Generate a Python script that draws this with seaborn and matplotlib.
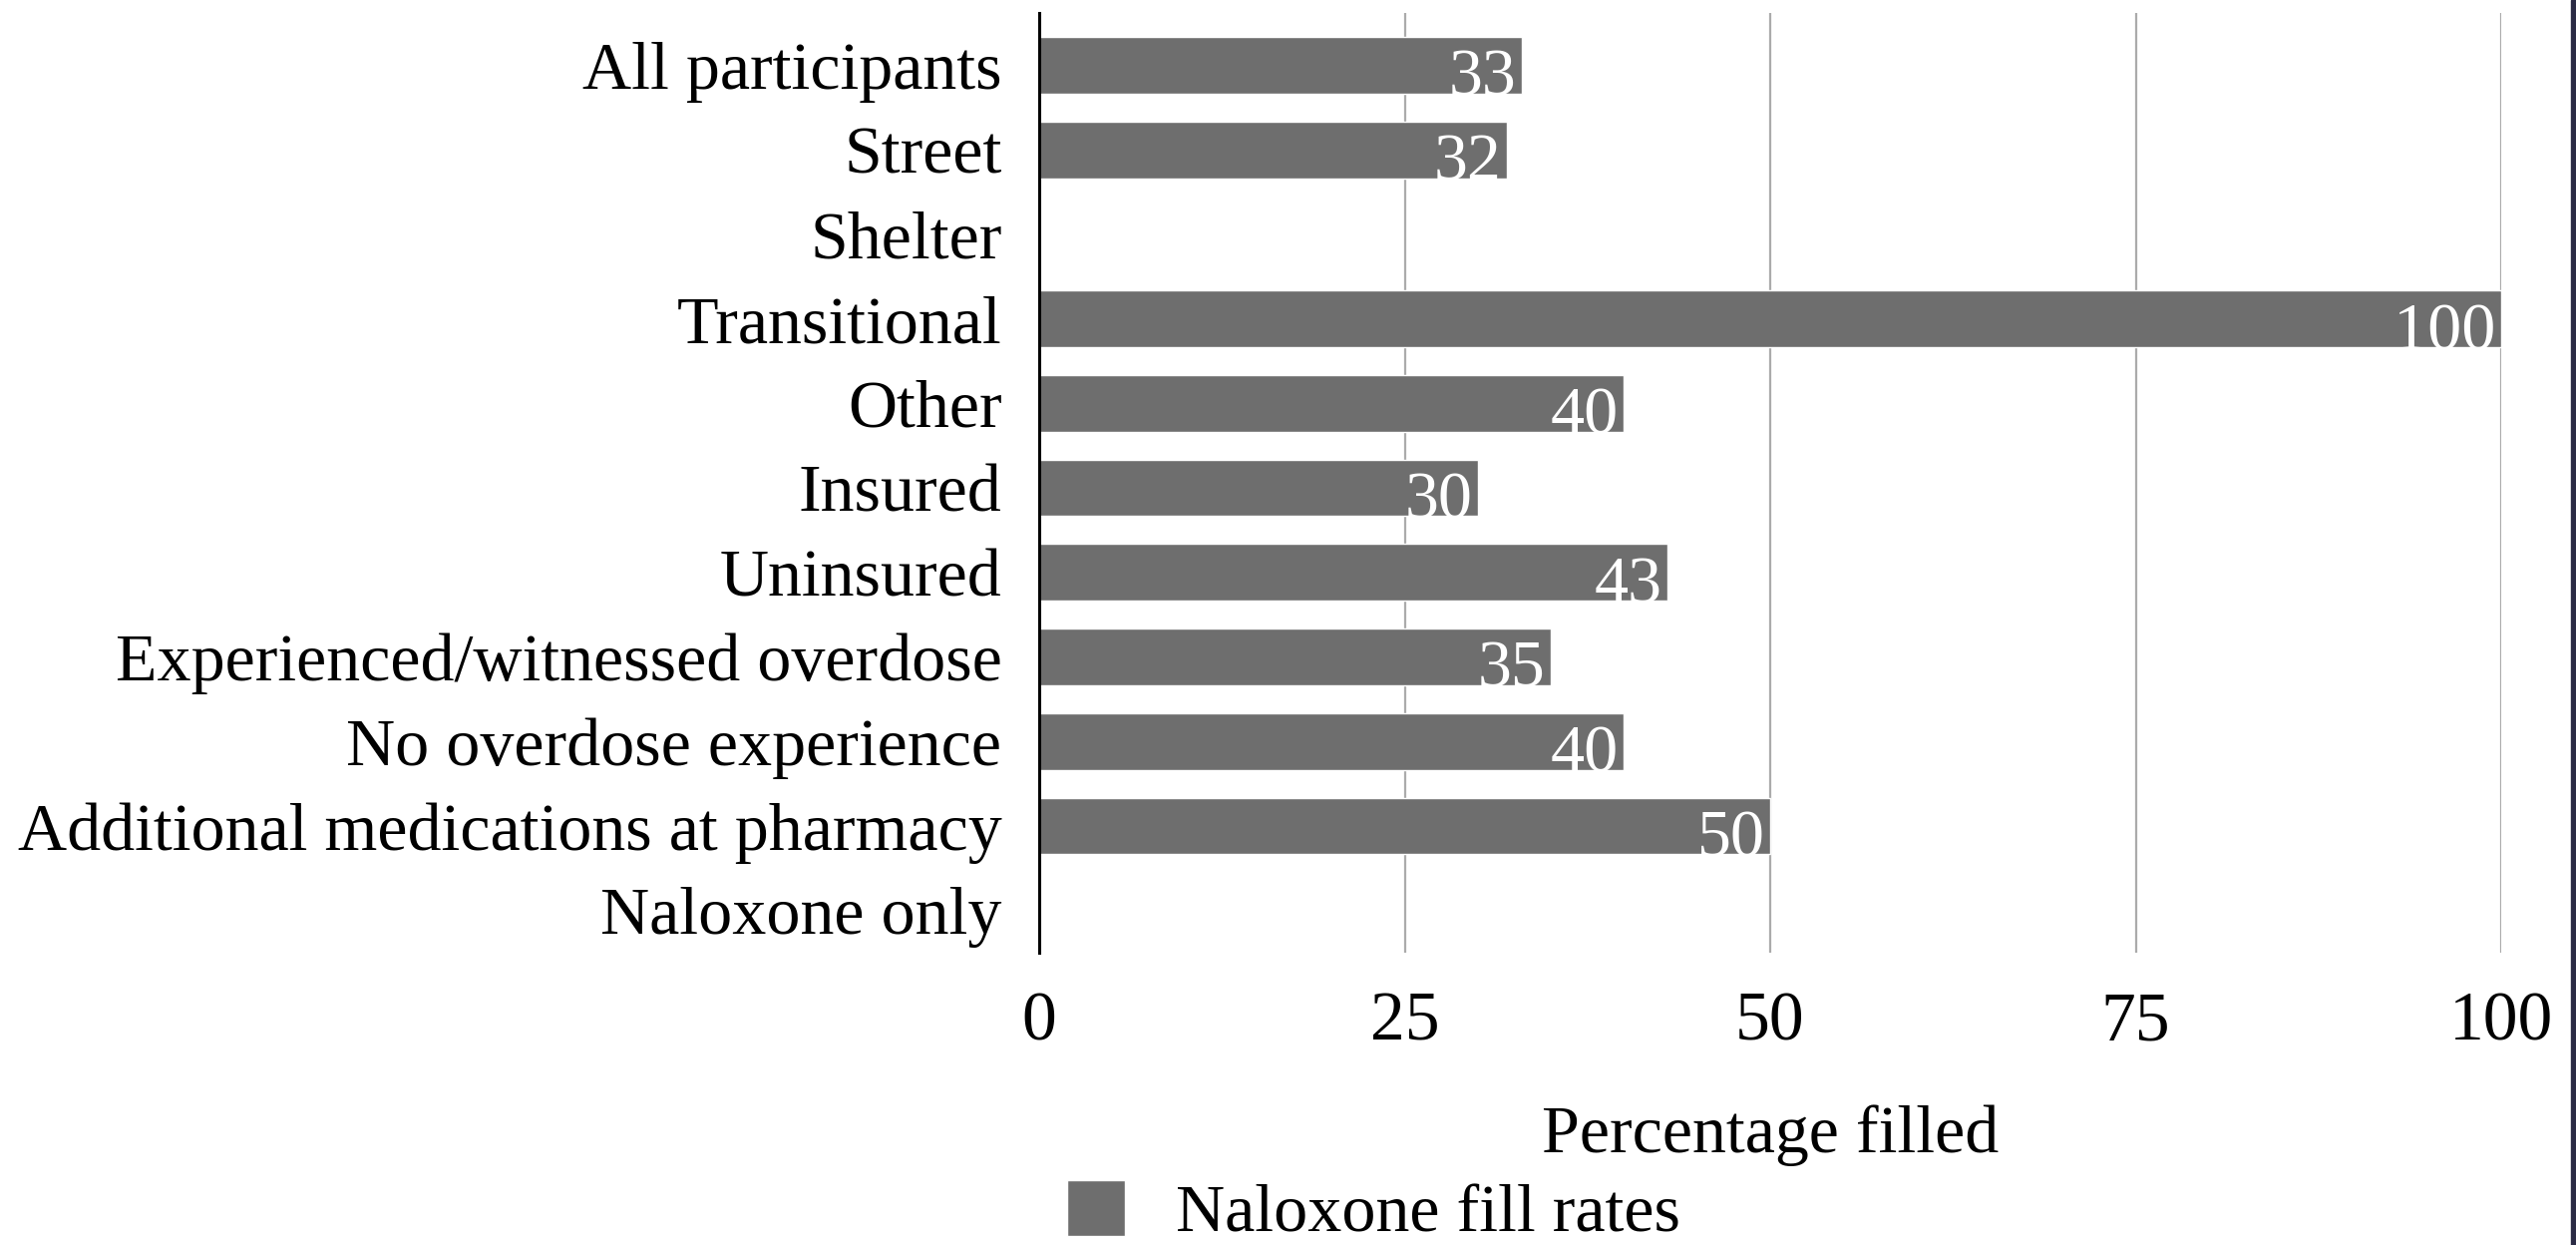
import numpy as np
import pandas as pd
import seaborn as sns
import matplotlib.pyplot as plt
from matplotlib.patches import Rectangle

# Data (empty bars have no value)
categories = ['All participants', 'Street', 'Shelter', 'Transitional', 'Other',
              'Insured', 'Uninsured', 'Experienced/witnessed overdose',
              'No overdose experience', 'Additional medications at pharmacy',
              'Naloxone only']
fill_rates = [33, 32, np.nan, 100, 40, 30, 43, 35, 40, 50, np.nan]
x_ticks = [0, 25, 50, 75, 100]
series_name = 'Naloxone fill rates'

df = pd.DataFrame({'Group': categories, 'Rate': fill_rates})

sns.set_style('white')
plt.rcParams['font.family'] = ['Liberation Serif', 'DejaVu Serif']
plt.rcParams['text.color'] = 'black'
plt.rcParams['xtick.color'] = 'black'
plt.rcParams['ytick.color'] = 'black'
plt.rcParams['axes.labelcolor'] = 'black'

fig = plt.figure(figsize=(25.83, 12.48), dpi=100)
ax = fig.add_axes([0.4034, 0.2348, 0.5676, 0.7548])

sns.barplot(data=df, x='Rate', y='Group', order=categories, color='#6e6e6e',
            saturation=1, width=0.67, orient='h', label=series_name, ax=ax)

# value labels inside the bar end
for bar in ax.containers[0]:
    if bar is None:
        continue
    w = bar.get_width()
    yc = bar.get_y() + bar.get_height() / 2
    ax.annotate(f'{w:g}', (w, yc), xytext=(-4, -5), textcoords='offset points',
                ha='right', va='center_baseline', color='white', fontsize=49)

ax.set_xlim(0, 100)
ax.set_ylim(10.5, -0.62)
ax.set_xticks(x_ticks)
ax.xaxis.grid(True, color='#ababab', linewidth=1.6)
ax.set_axisbelow(True)
for s in ['top', 'right', 'bottom']:
    ax.spines[s].set_visible(False)
ax.spines['left'].set_color('black')
ax.spines['left'].set_linewidth(2.2)
ax.tick_params(axis='y', length=0, pad=27, labelsize=49)
ax.tick_params(axis='x', length=0, pad=28, labelsize=50)
ax.set_ylabel('')
ax.set_xlabel('Percentage filled', fontsize=49, labelpad=36)

leg = ax.legend(loc='center left', bbox_to_anchor=(0.4144, 0.026),
                bbox_transform=fig.transFigure, frameon=False, fontsize=49,
                handlelength=0.85, handleheight=0.9, handletextpad=0.75,
                borderaxespad=0, borderpad=0)

# dark strip on the right edge of the image
fig.patches.append(Rectangle((0.998, 0), 0.002, 1, transform=fig.transFigure,
                             color='#2b2b45', zorder=10))

fig.savefig('out.png', dpi=100)
